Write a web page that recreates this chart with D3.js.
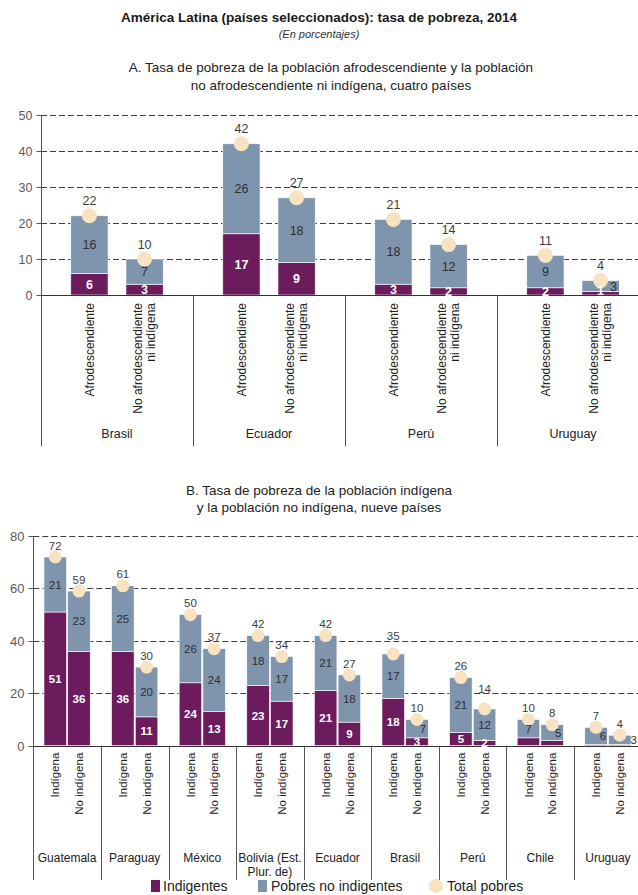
<!DOCTYPE html>
<html><head><meta charset="utf-8">
<script src="https://cdn.jsdelivr.net/npm/d3@7"></script>
<style>
body{margin:0;background:#fff}
svg{display:block}
text{font-family:"Liberation Sans",Arial,Helvetica,sans-serif}
</style>
</head><body>
<svg id="c" width="638" height="895"></svg>
<script>
// ---------- DATA ----------
const mainTitle = "América Latina (países seleccionados): tasa de pobreza, 2014";
const subTitle = "(En porcentajes)";
const titleA = ["A. Tasa de pobreza de la población afrodescendiente y la población", "no afrodescendiente ni indígena, cuatro países"];
const titleB = ["B. Tasa de pobreza de la población indígena", "y la población no indígena, nueve países"];

const countriesA = ["Brasil", "Ecuador", "Perú", "Uruguay"];
const groupsA = ["Afrodescendiente", "No afrodescendiente|ni indígena"];
const indigA_afro = [6, 17, 3, 2];
const pobresA_afro = [16, 26, 18, 9];
const totalA_afro = [22, 42, 21, 11];
const indigA_no = [3, 9, 2, 1];
const pobresA_no = [7, 18, 12, 3];
const totalA_no = [10, 27, 14, 4];
const ticksA = [0, 10, 20, 30, 40, 50];

const countriesB = ["Guatemala", "Paraguay", "México", "Bolivia (Est.|Plur. de)", "Ecuador", "Brasil", "Perú", "Chile", "Uruguay"];
const groupsB = ["Indígena", "No indígena"];
const indigB_ind = [51, 36, 24, 23, 21, 18, 5, 3, 0.5];
const pobresB_ind = [21, 25, 26, 18, 21, 17, 21, 7, 6];
const totalB_ind = [72, 61, 50, 42, 42, 35, 26, 10, 7];
const indigB_no = [36, 11, 13, 17, 9, 3, 2, 2, 0.5];
const pobresB_no = [23, 20, 24, 17, 18, 7, 12, 5, 3];
const totalB_no = [59, 30, 37, 34, 27, 10, 14, 8, 4];
const ticksB = [0, 20, 40, 60, 80];

const legendLabels = ["Indigentes", "Pobres no indigentes", "Total pobres"];

// ---------- STYLE / LAYOUT ----------
const W = 638, H = 895;
const COL = {ind: "#6c1c5c", pob: "#7f94ad", tot: "#f7e3c2", grid: "#3d3d3d", axis: "#555", tick: "#5a5a5a", dark: "#2e2e38", totTxt: "#3d3d3d"};
const svg = d3.select("#c");
svg.append("rect").attr("width", W).attr("height", H).attr("fill", "#fff");

function rows(countries, groups, sets) {
  const out = [];
  countries.forEach((c, i) => {
    groups.forEach((g, j) => {
      const s = sets[j];
      out.push({c, g, indig: s[0][i], pobres: s[1][i], total: s[2][i]});
    });
  });
  return out;
}
const dataA = rows(countriesA, groupsA, [[indigA_afro, pobresA_afro, totalA_afro], [indigA_no, pobresA_no, totalA_no]]);
const dataB = rows(countriesB, groupsB, [[indigB_ind, pobresB_ind, totalB_ind], [indigB_no, pobresB_no, totalB_no]]);

// label placement tweaks (layout only)
const key = d => d.c + "#" + d.g;
const nudgeA = {pob: {"Uruguay#No afrodescendiente|ni indígena": [13, 0]}, ind: {"Uruguay#No afrodescendiente|ni indígena": [0, -3]}, tot: {}};
const nudgeB = {
  pob: {"Brasil#No indígena": [6, 0], "Chile#No indígena": [6, 0], "Uruguay#Indígena": [7, 0], "Uruguay#No indígena": [14, 0]},
  ind: {},
  tot: {"Brasil#Indígena": [0, -7], "Perú#No indígena": [0, -9]}
};
const hideIndB = new Set(["Chile", "Uruguay"]);

// ---------- TITLES ----------
function text(x, y, s, o = {}) {
  return svg.append("text").attr("x", x).attr("y", y).attr("text-anchor", o.anchor || "middle")
    .attr("font-size", o.fs || 12).attr("font-weight", o.fw || "normal").attr("font-style", o.fst || "normal")
    .attr("fill", o.fill || "#222").text(s);
}
text(319, 22, mainTitle, {fs: 13.5, fw: "bold", fill: "#1a1a1a"});
text(319, 38, subTitle, {fs: 11, fst: "italic", fill: "#333"});
text(331, 72, titleA[0], {fs: 13.5});
text(331, 90, titleA[1], {fs: 13.5});
text(319, 495, titleB[0], {fs: 13.5});
text(319, 512, titleB[1], {fs: 13.5});

// ---------- PANEL ----------
function panel(p) {
  const g = svg.append("g");
  const y = d3.scaleLinear().domain([0, p.max]).range([p.y0, p.yTop]);
  const x0 = d3.scaleBand().domain(p.countries).range([p.xAxis, p.xAxis + p.groupW * p.countries.length]);
  const x1 = d3.scaleBand().domain(p.groups).range([0, x0.bandwidth()]).paddingInner(p.pi).paddingOuter(p.po);
  const cx = d => x0(d.c) + x1(d.g) + x1.bandwidth() / 2;

  // grid
  g.selectAll(".grid").data(p.ticks.filter(t => t > 0)).join("line")
    .attr("x1", p.xAxis).attr("x2", W).attr("y1", d => Math.round(y(d)) + 0.5).attr("y2", d => Math.round(y(d)) + 0.5)
    .attr("stroke", COL.grid).attr("stroke-width", 1).attr("stroke-dasharray", "6,3");

  // y axis ticks + labels
  const ax = g.append("g").attr("transform", `translate(${Math.round(p.xAxis) + 0.5},0.5)`)
    .call(d3.axisLeft(y).tickValues(p.ticks).tickSize(5).tickPadding(4).tickFormat(d3.format("d")));
  ax.select(".domain").remove();
  ax.selectAll(".tick line").attr("stroke", COL.axis);
  ax.selectAll(".tick text").attr("font-size", p.tickFs).attr("fill", COL.tick)
    .attr("font-family", '"Liberation Sans",Arial,sans-serif');
  ax.selectAll(".tick").attr("transform", d => `translate(0,${Math.round(y(d))})`);

  // bars
  const bars = g.append("g");
  bars.selectAll(".ind").data(dataOf(p)).join("rect")
    .attr("x", d => x0(d.c) + x1(d.g)).attr("width", x1.bandwidth())
    .attr("y", d => y(d.indig)).attr("height", d => y(0) - y(d.indig))
    .attr("fill", COL.ind).attr("stroke", "#fff").attr("stroke-width", 0.6);
  bars.selectAll(".pob").data(dataOf(p)).join("rect")
    .attr("x", d => x0(d.c) + x1(d.g)).attr("width", x1.bandwidth())
    .attr("y", d => y(d.total)).attr("height", d => y(d.indig) - y(d.total))
    .attr("fill", COL.pob).attr("stroke", "#fff").attr("stroke-width", 0.6);

  // axes lines
  const xa = Math.round(p.xAxis) + 0.5;
  g.append("line").attr("x1", xa).attr("x2", xa).attr("y1", y(p.max)).attr("y2", p.sepBottom).attr("stroke", COL.axis);
  g.append("line").attr("x1", xa).attr("x2", W).attr("y1", Math.round(p.y0) + 0.5).attr("y2", Math.round(p.y0) + 0.5).attr("stroke", "#333");
  g.selectAll(".sep").data(p.countries.slice(1)).join("line")
    .attr("x1", d => Math.round(x0(d)) + 0.5).attr("x2", d => Math.round(x0(d)) + 0.5)
    .attr("y1", p.y0).attr("y2", p.sepBottom).attr("stroke", COL.axis);

  // circles
  g.selectAll(".tot").data(dataOf(p)).join("circle")
    .attr("cx", cx).attr("cy", d => y(d.total)).attr("r", p.r).attr("fill", COL.tot);

  // segment labels
  const nd = (m, d) => m[key(d)] || [0, 0];
  g.selectAll(".lind").data(dataOf(p).filter(d => !p.hideInd.has(d.c))).join("text")
    .attr("x", d => cx(d) + nd(p.nudge.ind, d)[0]).attr("y", d => y(d.indig / 2) + nd(p.nudge.ind, d)[1])
    .attr("dy", "0.36em").attr("text-anchor", "middle").attr("font-size", p.segFs).attr("font-weight", "bold")
    .attr("fill", "#fff").text(d => Math.round(d.indig));
  g.selectAll(".lpob").data(dataOf(p)).join("text")
    .attr("x", d => cx(d) + nd(p.nudge.pob, d)[0]).attr("y", d => y((d.indig + d.total) / 2) + nd(p.nudge.pob, d)[1])
    .attr("dy", "0.36em").attr("text-anchor", "middle").attr("font-size", p.segFs)
    .attr("fill", COL.dark).text(d => d.pobres);
  g.selectAll(".ltot").data(dataOf(p)).join("text")
    .attr("x", d => cx(d) + nd(p.nudge.tot, d)[0]).attr("y", d => y(d.total) - p.totOff + nd(p.nudge.tot, d)[1])
    .attr("dy", "0.36em").attr("text-anchor", "middle").attr("font-size", p.totFs)
    .attr("fill", COL.totTxt).text(d => d.total);

  // category labels (rotated)
  const cat = g.selectAll(".cat").data(dataOf(p)).join("text")
    .attr("transform", d => `translate(${cx(d)},${p.y0 + p.catTop}) rotate(-90)`)
    .attr("text-anchor", "end").attr("font-size", p.catFs).attr("fill", "#222");
  cat.each(function(d) {
    const lines = d.g.split("|");
    const t = d3.select(this);
    lines.forEach((l, i) => {
      t.append("tspan").attr("x", 0).attr("y", (i - (lines.length - 1) / 2) * p.catLH).attr("dy", "0.36em").text(l);
    });
  });

  // country labels
  const ctry = g.selectAll(".ctry").data(p.countries).join("text")
    .attr("text-anchor", "middle").attr("font-size", p.ctryFs).attr("fill", "#222");
  ctry.each(function(c) {
    const lines = c.split("|");
    const t = d3.select(this);
    lines.forEach((l, i) => {
      t.append("tspan").attr("x", x0(c) + x0.bandwidth() / 2).attr("y", p.ctryY + i * p.ctryLH).text(l);
    });
  });
}
function dataOf(p) { return p.data; }

panel({
  data: dataA, countries: countriesA, groups: groupsA, ticks: ticksA, max: 50,
  xAxis: 41, groupW: 152, pi: 0.325, po: 0.54, y0: 295, yTop: 115, sepBottom: 446,
  tickFs: 12.5, segFs: 12.5, totFs: 12.5, r: 7.5, totOff: 15,
  catTop: 8, catFs: 12, catLH: 13, ctryY: 437.5, ctryFs: 12.5, ctryLH: 14,
  nudge: nudgeA, hideInd: new Set()
});
panel({
  data: dataB, countries: countriesB, groups: groupsB, ticks: ticksB, max: 80,
  xAxis: 33.3, groupW: 67.6, pi: 0.05, po: 0.45, y0: 745.7, yTop: 536, sepBottom: 880,
  tickFs: 13, segFs: 11.5, totFs: 11.5, r: 6.5, totOff: 11.5,
  catTop: 7, catFs: 11.5, catLH: 13, ctryY: 862, ctryFs: 12, ctryLH: 14,
  nudge: nudgeB, hideInd: hideIndB
});

// ---------- LEGEND ----------
const lg = svg.append("g");
const ly = 886;
lg.append("rect").attr("x", 151).attr("y", ly - 6).attr("width", 9).attr("height", 12).attr("fill", COL.ind);
text(163, ly + 5, legendLabels[0], {anchor: "start", fs: 14, fill: "#222"});
lg.append("rect").attr("x", 258).attr("y", ly - 6).attr("width", 9).attr("height", 12).attr("fill", COL.pob);
text(271, ly + 5, legendLabels[1], {anchor: "start", fs: 14, fill: "#222"});
lg.append("circle").attr("cx", 436).attr("cy", ly).attr("r", 7).attr("fill", COL.tot);
text(447, ly + 5, legendLabels[2], {anchor: "start", fs: 14, fill: "#222"});
</script>
</body></html>
